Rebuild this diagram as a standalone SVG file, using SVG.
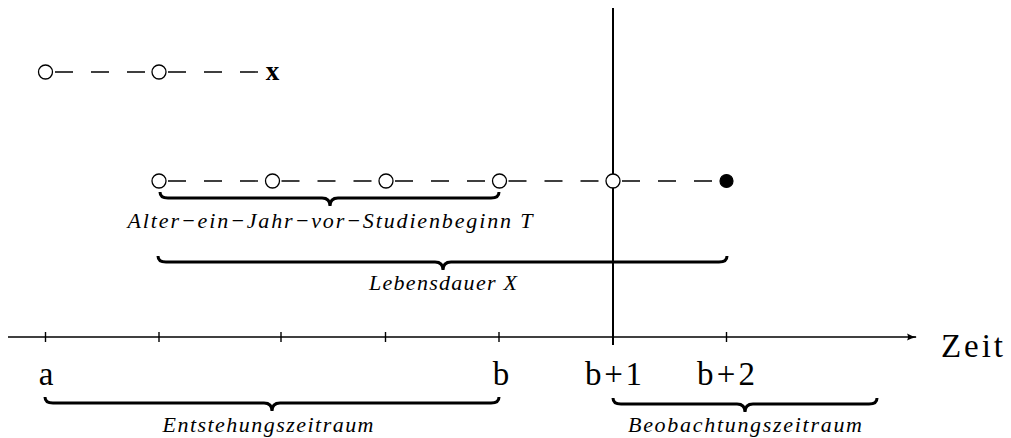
<svg xmlns="http://www.w3.org/2000/svg" width="1011" height="438" viewBox="0 0 1011 438">
<style>
.ax{stroke:#000;stroke-width:1.6;fill:none}
.tk{stroke:#000;stroke-width:1.4}
.dash{stroke:#000;stroke-width:1.4;stroke-dasharray:18 18;fill:none}
.oc{fill:#fff;stroke:#000;stroke-width:1.3}
.fc{fill:#000;stroke:#000;stroke-width:1.2}
.br{stroke:#000;stroke-width:3;fill:none;stroke-linecap:butt}
.rm{font-family:"Liberation Serif","DejaVu Serif",serif;font-size:33px;fill:#000}
.it{font-family:"Liberation Serif","DejaVu Serif",serif;font-style:italic;font-size:22px;fill:#000}
.bx{font-family:"Liberation Serif","DejaVu Serif",serif;font-weight:bold;font-size:27px;fill:#000}
</style>
<defs>
<marker id="arr" viewBox="0 0 10 8" refX="9" refY="4" markerWidth="10" markerHeight="8" markerUnits="userSpaceOnUse" orient="auto">
<path d="M0,0.5 Q4,3 10,4 Q4,5 0,7.5 Q2,4 0,0.5 Z" fill="#000"/>
</marker>
</defs>
<g id="connectors">
<line class="ax" x1="8" y1="337" x2="916" y2="337" marker-end="url(#arr)"/>
<line x1="613" y1="8" x2="613" y2="345" stroke="#000" stroke-width="2"/>
<g id="ticks">
<line class="tk" x1="45.5" y1="332" x2="45.5" y2="342"/>
<line class="tk" x1="159" y1="332" x2="159" y2="342"/>
<line class="tk" x1="281" y1="332" x2="281" y2="342"/>
<line class="tk" x1="385.5" y1="332" x2="385.5" y2="342"/>
<line class="tk" x1="499" y1="332" x2="499" y2="342"/>
<line class="tk" x1="726.5" y1="332" x2="726.5" y2="342"/>
</g>
<line class="dash" x1="55" y1="72" x2="145" y2="72"/>
<line class="dash" x1="168" y1="72" x2="258" y2="72"/>
<line class="dash" x1="168" y1="181" x2="258" y2="181"/>
<line class="dash" x1="281.5" y1="181" x2="371.5" y2="181"/>
<line class="dash" x1="395" y1="181" x2="485" y2="181"/>
<line class="dash" x1="508.5" y1="181" x2="598.5" y2="181"/>
<line class="dash" x1="622" y1="181" x2="712" y2="181"/>
</g>
<g id="row1">
<circle class="oc" cx="45.5" cy="72" r="7"/>
<circle class="oc" cx="159" cy="72" r="7"/>
<text class="bx" x="272.5" y="80" text-anchor="middle">x</text>
</g>
<g id="row2">
<circle class="oc" cx="159" cy="181" r="7"/>
<circle class="oc" cx="272.5" cy="181" r="7"/>
<circle class="oc" cx="386" cy="181" r="7"/>
<circle class="oc" cx="499.5" cy="181" r="7"/>
<circle class="oc" cx="613" cy="181" r="7"/>
<circle class="fc" cx="726.5" cy="181" r="6.5"/>
</g>
<g id="brace-T">
<path class="br" d="M160,192 Q160,198 168,198 H322 Q330,198 330,206 Q330,198 338,198 H491 Q499,198 499,192"/>
<text class="it" x="330" y="228" text-anchor="middle" textLength="405">Alter−ein−Jahr−vor−Studienbeginn T</text>
</g>
<g id="brace-X">
<path class="br" d="M158,256 Q158,262 166,262 H435 Q443,262 443,270 Q443,262 451,262 H719 Q727,262 727,256"/>
<text class="it" x="443" y="290" text-anchor="middle" textLength="148">Lebensdauer X</text>
</g>
<g id="brace-E">
<path class="br" d="M45,397 Q45,403 53,403 H264 Q272,403 272,411 Q272,403 280,403 H491 Q499,403 499,397"/>
<text class="it" x="268" y="432" text-anchor="middle" textLength="211">Entstehungszeitraum</text>
</g>
<g id="brace-B">
<path class="br" d="M613,398 Q613,404 621,404 H737 Q745,404 745,412 Q745,404 753,404 H869 Q877,404 877,398"/>
<text class="it" x="745" y="432" text-anchor="middle" textLength="234">Beobachtungszeitraum</text>
</g>
<g id="labels">
<text class="rm" x="46" y="385" text-anchor="middle">a</text>
<text class="rm" x="501" y="385" text-anchor="middle">b</text>
<text class="rm" x="613.5" y="385" text-anchor="middle" textLength="57">b+1</text>
<text class="rm" x="726" y="385" text-anchor="middle" textLength="58">b+2</text>
<text class="rm" x="972" y="357" text-anchor="middle" textLength="62">Zeit</text>
</g>
</svg>
